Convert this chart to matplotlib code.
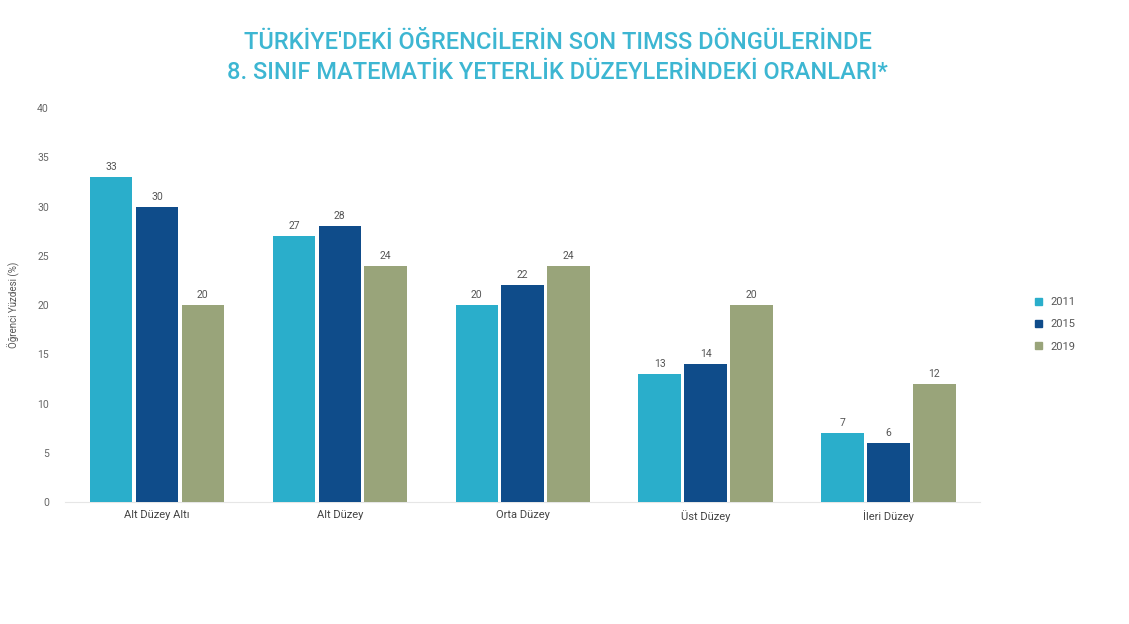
import numpy as np
import matplotlib.pyplot as plt
from matplotlib.patches import Patch

categories = ['Alt Düzey Altı', 'Alt Düzey', 'Orta Düzey', 'Üst Düzey', 'İleri Düzey']
years = ['2011', '2015', '2019']
v2011 = [33, 27, 20, 13, 7]
v2015 = [30, 28, 22, 14, 6]
v2019 = [20, 24, 24, 20, 12]
yticks = [0, 5, 10, 15, 20, 25, 30, 35, 40]

colors = ['#2aaecb', '#0f4c8a', '#99a47a']
series = [v2011, v2015, v2019]

plt.rcParams['font.family'] = ['Roboto', 'DejaVu Sans']

fig = plt.figure(figsize=(11.29, 6.24), dpi=100)
ax = fig.add_axes([0.058, 0.1955, 0.81, 0.6314])

x = np.arange(len(categories))
w = 0.233
step = 0.251
for i, vals in enumerate(series):
	pos = x + (i - 1) * step
	ax.bar(pos, vals, width=w, color=colors[i], zorder=3)
	for p, v in zip(pos, vals):
		ax.text(p, v + 0.5, str(v), ha='center', va='bottom', fontsize=7.5, color='#555555')

ax.set_xlim(-0.5, 4.5)
ax.set_ylim(0, 40)
ax.set_yticks(yticks)
ax.set_xticks(x)
ax.set_xticklabels(categories, fontsize=8, color='#444444')
ax.tick_params(axis='y', labelsize=7.5, labelcolor='#666666', length=0, pad=12)
ax.tick_params(axis='x', length=0, pad=6)
for s in ['top', 'right', 'left']:
	ax.spines[s].set_visible(False)
ax.spines['bottom'].set_color('#e6e6e6')
ax.set_ylabel('Öğrenci Yüzdesi (%)', fontsize=7, color='#555555')
ax.yaxis.set_label_coords(-0.05, 0.5)

handles = [Patch(color=c, label=y) for c, y in zip(colors, years)]
fig.legend(handles=handles, loc='center left', bbox_to_anchor=(0.908, 0.48), frameon=False,
	fontsize=8, handlelength=0.6, handleheight=0.6, labelspacing=1.1, labelcolor='#555555')

fig.text(0.494, 0.932, "TÜRKİYE'DEKİ ÖĞRENCİLERİN SON TIMSS DÖNGÜLERİNDE", ha='center', va='center',
	fontsize=17, color='#3db6d2', fontweight='medium')
fig.text(0.494, 0.884, '8. SINIF MATEMATİK YETERLİK DÜZEYLERİNDEKİ ORANLARI*', ha='center', va='center',
	fontsize=17, color='#3db6d2', fontweight='medium')

fig.savefig('out.png', dpi=100)
